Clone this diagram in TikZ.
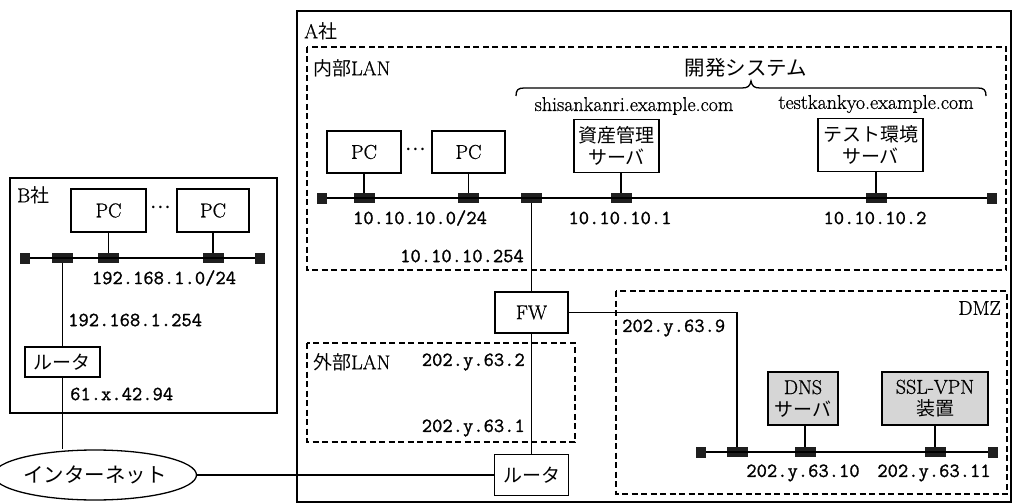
\documentclass[tikz,border=0pt]{standalone}
\usepackage{fontspec}
\setmainfont{Latin Modern Roman}[FakeBold=0.8]
\setmonofont{Latin Modern Mono}[FakeBold=1.2]
\newfontfamily\jpfont{Noto Sans CJK JP}
\usetikzlibrary{shapes.geometric}
\newcommand\J[1]{{\jpfont\fontsize{19}{22}\selectfont #1}}
\newcommand\JL[1]{{\jpfont\fontsize{20.5}{22}\selectfont #1}}
\tikzset{
  box/.style={draw, line width=1.3pt, fill=white, inner sep=0pt, align=center, font=\fontsize{20}{22}\selectfont},
  gbox/.style={box, fill=black!16},
  port/.style={fill=black!88, inner sep=0pt, minimum width=21pt, minimum height=10pt},
  endp/.style={fill=black!88, inner sep=0pt, minimum width=10pt, minimum height=11pt},
  lan/.style={line width=2.3pt},
  wire/.style={line width=1.3pt},
  zone/.style={line width=1.7pt, dash pattern=on 6pt off 3.5pt},
  org/.style={line width=1.6pt},
  addr/.style={inner sep=0pt, font=\ttfamily\fontsize{20}{22}\selectfont},
  lbl/.style={inner sep=0pt, font=\fontsize{20}{22}\selectfont}
}
\begin{document}
\begin{tikzpicture}[x=1pt,y=-1pt]
\useasboundingbox (0,0) rectangle (1013,503);
% ---------- organisation boxes and zones ----------
\draw[org] (10,178) rectangle (277,413);
\draw[org] (297,11) rectangle (1011,502);
\draw[zone] (307,47) rectangle (1006,270);
\draw[zone] (307,343) rectangle (575,442);
\draw[zone] (616,291) rectangle (1007,494);
\node[lbl, anchor=west] (bsha) at (17,195) {B\J{社}};
\node[lbl, anchor=west] (asha) at (304,31) {A\J{社}};
\node[lbl, anchor=west] (nairan) at (313,68) {\J{内部}LAN};
\node[lbl, anchor=west] (gairan) at (313,362) {\J{外部}LAN};
\node[lbl, anchor=east] (dmzl) at (1001,308) {DMZ};
% ---------- B company ----------
\node[box, minimum width=75pt, minimum height=43pt] (bpc1) at (108.5,210.5) {PC};
\node[box, minimum width=72pt, minimum height=43pt] (bpc2) at (213,210.5) {PC};
\node[inner sep=0pt] (bdots) at (161,207) {\J{…}};
\node[endp] (bel) at (25,258) {};
\node[endp] (ber) at (260,258) {};
\node[port] (bpr) at (62.5,258) {};
\node[port] (bp1) at (108.5,258) {};
\node[port] (bp2) at (213,258) {};
\draw[lan] (bel) -- (ber);
\draw[wire] (bpc1) -- (bp1);
\draw[wire] (bpc2) -- (bp2);
\node[addr] (bnet) at (164,278) {192.168.1.0/24};
\node[addr, anchor=west] (brip) at (68,320) {192.168.1.254};
\node[box, minimum width=75pt, minimum height=30pt] (brt) at (62.5,362) {\J{ルータ}};
\node[addr, anchor=west] (bwan) at (70,394) {61.x.42.94};
\node[draw, ellipse, line width=1.3pt, fill=white, inner sep=0pt, minimum width=170pt, minimum height=50pt] (inet) at (95,475) {\JL{インターネット}};
\draw[wire] (bpr) -- (brt);
\draw[wire] (brt) -- (brt |- inet.north);
% ---------- A internal LAN ----------
\node[lbl] (kaihatsu) at (746,68) {\JL{開発システム}};
\draw[line width=1.3pt] (516,96) .. controls (516,90) and (518,88) .. (524,88) -- (742,88) .. controls (748,88) and (750,86) .. (751,81) .. controls (752,86) and (754,88) .. (760,88) -- (978,88) .. controls (984,88) and (986,90) .. (986,96);
\node[lbl] (shisanurl) at (634,106) {shisankanri.example.com};
\node[lbl] (testurl) at (876,104) {testkankyo.example.com};
\node[box, minimum width=74pt, minimum height=42pt] (apc1) at (364,152) {PC};
\node[box, minimum width=73pt, minimum height=42pt] (apc2) at (468.5,152) {PC};
\node[inner sep=0pt] (adots) at (416,149) {\J{…}};
\node[box, minimum width=85pt, minimum height=53pt] (shisan) at (616.5,146) {\J{資産管理}\\\J{サーバ}};
\node[box, minimum width=105pt, minimum height=53pt] (test) at (870.5,145) {\J{テスト環境}\\\J{サーバ}};
\node[endp] (ael) at (322,198) {};
\node[endp] (aer) at (992,198) {};
\node[port] (ap1) at (364,198) {};
\node[port] (ap2) at (468.5,198) {};
\node[port] (apfw) at (531.5,198) {};
\node[port] (aps) at (621,198) {};
\node[port] (apt) at (876,198) {};
\draw[lan] (ael) -- (aer);
\draw[wire] (apc1) -- (ap1);
\draw[wire] (apc2) -- (ap2);
\draw[wire] (aps) -- (aps |- shisan.south);
\draw[wire] (apt) -- (apt |- test.south);
\node[addr] (anet) at (420,218) {10.10.10.0/24};
\node[addr] (aip1) at (620,218) {10.10.10.1};
\node[addr] (aip2) at (875,218) {10.10.10.2};
\node[addr, anchor=east] (afwip) at (524,256) {10.10.10.254};
% ---------- FW, external LAN, router ----------
\node[box, minimum width=73pt, minimum height=41pt] (fw) at (531.5,312.5) {FW};
\node[box, minimum width=74pt, minimum height=41pt] (art) at (531.5,475) {\J{ルータ}};
\draw[wire] (apfw) -- (fw);
\draw[wire] (fw) -- (art);
\draw[wire] (inet) -- (art);
\node[addr, anchor=east] (ex2) at (525,362) {202.y.63.2};
\node[addr, anchor=east] (ex1) at (525,428) {202.y.63.1};
% ---------- DMZ ----------
\node[gbox, minimum width=70pt, minimum height=53pt] (dns) at (803,398.5) {DNS\\\J{サーバ}};
\node[gbox, minimum width=106pt, minimum height=53pt] (ssl) at (935,398.5) {SSL-VPN\\\J{装置}};
\node[endp] (del) at (701,452) {};
\node[endp] (der) at (993,452) {};
\node[port] (dpfw) at (737,452) {};
\node[port] (dpdns) at (805,452) {};
\node[port] (dpssl) at (935,452) {};
\draw[lan] (del) -- (der);
\draw[wire] (dpdns) -- (dpdns |- dns.south);
\draw[wire] (dpssl) -- (ssl);
\draw[wire] (fw.east) -| (dpfw);
\node[addr, anchor=west] (dmzfw) at (622,328) {202.y.63.9};
\node[addr] (dip1) at (803,473) {202.y.63.10};
\node[addr] (dip2) at (934,473) {202.y.63.11};
\end{tikzpicture}
\end{document}
